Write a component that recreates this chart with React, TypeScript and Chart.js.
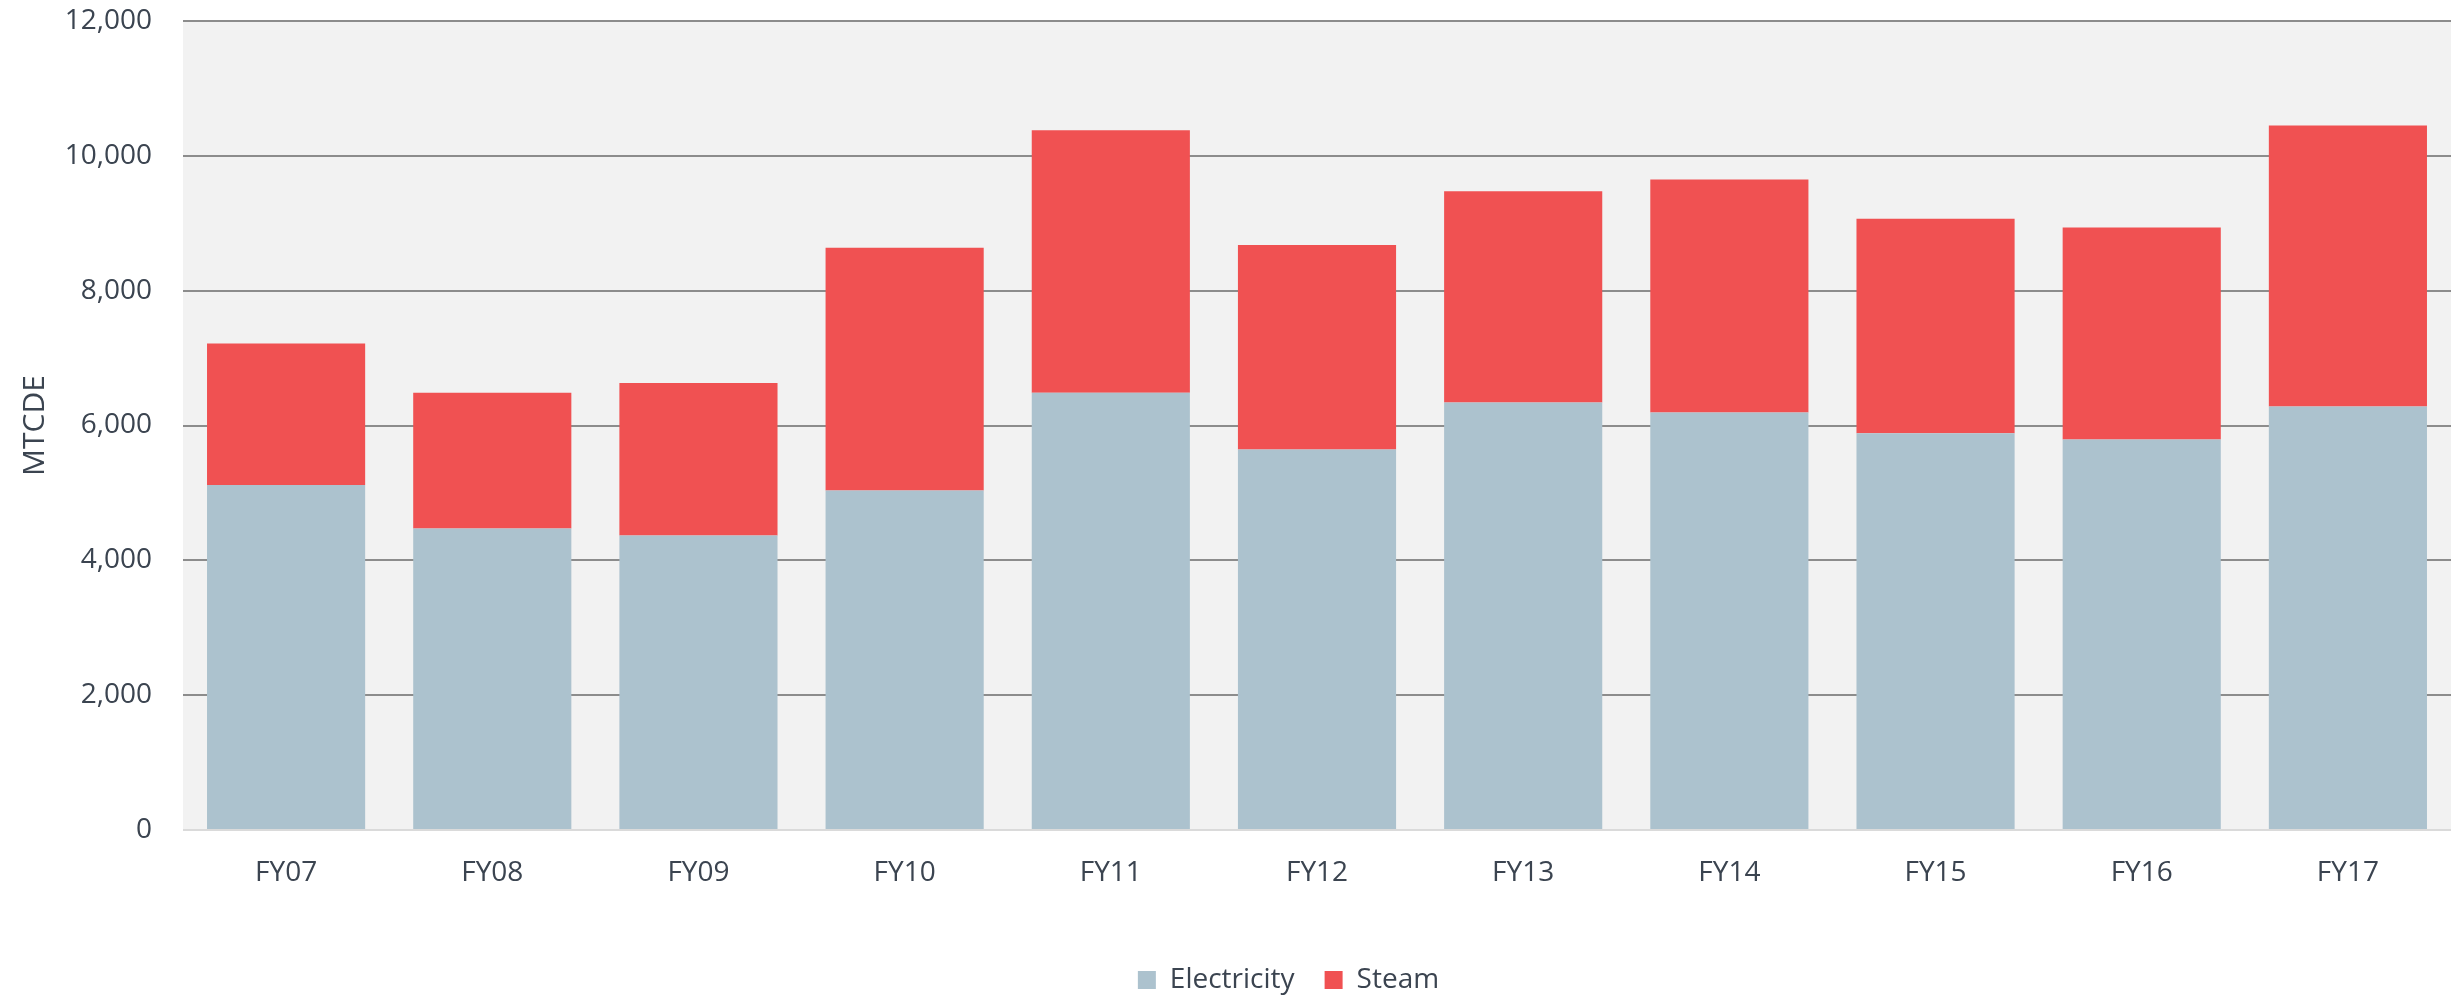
import React, { useEffect, useRef } from "react";
import { Chart, registerables } from "chart.js";

Chart.register(...registerables);

const categories = ["FY07", "FY08", "FY09", "FY10", "FY11", "FY12", "FY13", "FY14", "FY15", "FY16", "FY17"];
const electricity = [5116, 4474, 4370, 5037, 6484, 5644, 6341, 6193, 5886, 5793, 6281];
const steam = [2099, 2010, 2262, 3598, 3896, 3033, 3135, 3456, 3181, 3145, 4168];
const yTicks = [0, 2000, 4000, 6000, 8000, 10000, 12000];
const yTitle = "MTCDE";
const seriesNames = ["Electricity", "Steam"];

const TEXT = "#3B4450";
const FONT = "'Open Sans', 'Liberation Sans', sans-serif";

const plotBg = {
  id: "plotBg",
  beforeDraw(chart: any) {
    const { ctx, chartArea } = chart;
    if (!chartArea) return;
    ctx.save();
    ctx.fillStyle = "#F2F2F2";
    ctx.fillRect(chartArea.left, chartArea.top, chartArea.right - chartArea.left, chartArea.bottom - chartArea.top);
    ctx.restore();
  },
};

const legendShift = {
  id: "legendShift",
  afterLayout(chart: any) {
    const lg = chart.legend;
    if (!lg) return;
    lg.left += 63;
    lg.right += 63;
    lg.top += 9;
    lg.bottom += 9;
  },
};

export default function App() {
  const ref = useRef<HTMLCanvasElement | null>(null);
  useEffect(() => {
    document.body.style.margin = "0";
    const canvas = ref.current;
    if (!canvas) return;
    const chart = new Chart(canvas, {
      type: "bar",
      data: {
        labels: categories,
        datasets: [
          { label: seriesNames[0], data: electricity, backgroundColor: "#ACC2CE", borderWidth: 0 },
          { label: seriesNames[1], data: steam, backgroundColor: "#F05152", borderWidth: 0 },
        ],
      },
      options: {
        animation: false,
        responsive: true,
        maintainAspectRatio: false,
        layout: { padding: { top: 21, right: 7, left: 0, bottom: 0 } },
        datasets: { bar: { categoryPercentage: 1, barPercentage: 0.767 } },
        plugins: {
          tooltip: { enabled: false },
          legend: {
            position: "bottom",
            labels: {
              boxWidth: 18,
              boxHeight: 18,
              padding: 30,
              color: TEXT,
              font: { family: FONT, size: 28 },
            },
          },
        },
        scales: {
          x: {
            stacked: true,
            grid: { display: false, drawTicks: false },
            border: { display: false },
            ticks: { color: TEXT, font: { family: FONT, size: 28 }, padding: 26 },
            afterFit: (s: any) => {
              s.height = 97;
            },
          },
          y: {
            stacked: true,
            min: 0,
            max: 12000,
            afterBuildTicks: (s: any) => {
              s.ticks = yTicks.map((v) => ({ value: v }));
            },
            grid: {
              drawTicks: false,
              lineWidth: 2,
              color: (c: any) => (c.tick && c.tick.value === 0 ? "#DADADA" : "#8C8C8C"),
            },
            border: { display: false },
            ticks: {
              color: TEXT,
              font: { family: FONT, size: 28 },
              padding: 31,
              callback: (v: any) => Number(v).toLocaleString("en-US"),
            },
            title: {
              display: true,
              text: yTitle,
              color: TEXT,
              font: { family: FONT, size: 30 },
              padding: { top: 17, bottom: 0 },
            },
            afterFit: (s: any) => {
              s.width = 183;
              s.paddingTop = 0;
              s.paddingBottom = 0;
            },
          },
        },
      },
      plugins: [plotBg, legendShift],
    });
    return () => chart.destroy();
  }, []);
  return (
    <div style={{ position: "relative", width: 2458, height: 995 }}>
      <canvas ref={ref} />
    </div>
  );
}
